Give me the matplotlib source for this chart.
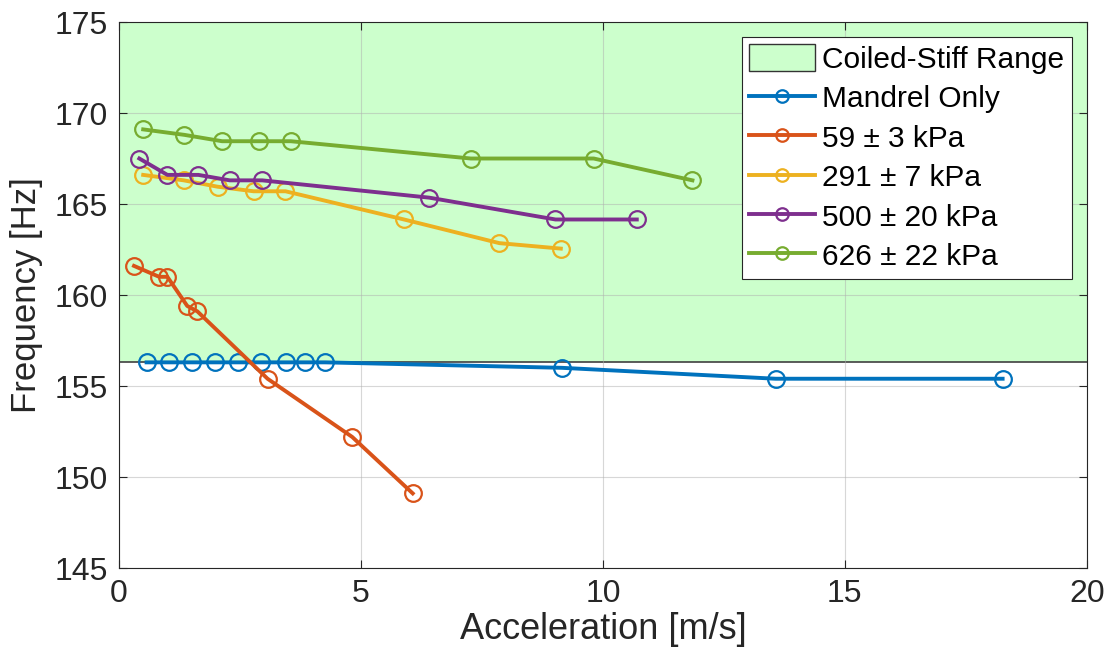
import matplotlib
matplotlib.use("Agg")
import matplotlib.pyplot as plt
from matplotlib.patches import Patch

plt.rcParams['font.family'] = ['Liberation Sans', 'DejaVu Sans']

range_low = 156.3
range_high = 175.0

mandrel_x = [0.57, 1.03, 1.50, 1.99, 2.46, 2.94, 3.46, 3.84, 4.26, 9.15, 13.57, 18.26]
mandrel_y = [156.3, 156.3, 156.3, 156.3, 156.3, 156.3, 156.3, 156.3, 156.3, 156.0, 155.4, 155.4]

k59_x = [0.31, 0.83, 1.00, 1.41, 1.62, 3.07, 4.82, 6.07]
k59_y = [161.6, 161.0, 161.0, 159.4, 159.1, 155.4, 152.2, 149.1]

k291_x = [0.50, 1.34, 2.04, 2.78, 3.44, 5.89, 7.86, 9.13]
k291_y = [166.6, 166.3, 165.95, 165.7, 165.7, 164.15, 162.85, 162.55]

k500_x = [0.42, 1.00, 1.64, 2.29, 2.96, 6.41, 9.02, 10.70]
k500_y = [167.5, 166.6, 166.6, 166.3, 166.3, 165.35, 164.15, 164.15]

k626_x = [0.50, 1.35, 2.13, 2.89, 3.55, 7.27, 9.81, 11.85]
k626_y = [169.1, 168.8, 168.45, 168.45, 168.45, 167.5, 167.5, 166.3]

labels = ['Mandrel Only', '59 ± 3 kPa', '291 ± 7 kPa', '500 ± 20 kPa', '626 ± 22 kPa']
colors = ['#0072BD', '#D95319', '#EDB120', '#7E2F8E', '#77AC30']
series = [(mandrel_x, mandrel_y), (k59_x, k59_y), (k291_x, k291_y),
          (k500_x, k500_y), (k626_x, k626_y)]

fig = plt.figure(figsize=(11.09, 6.67), dpi=100)
ax = fig.add_axes([0.1073, 0.1484, 0.8727, 0.8186])

ax.axhspan(range_low, range_high, facecolor='#CCFFCC', edgecolor='none', zorder=0)
ax.axhline(range_low, color='#404040', lw=1.2, zorder=1)
handles = [Patch(facecolor='#CCFFCC', edgecolor='#333333', label='Coiled-Stiff Range')]

for (x, y), lab, c in zip(series, labels, colors):
    h, = ax.plot(x, y, '-o', color=c, lw=2.8, markersize=12, markerfacecolor='none',
                 markeredgewidth=1.6, label=lab, zorder=3)
    handles.append(h)

ax.set_xlim(0, 20)
ax.set_ylim(145, 175)
ax.set_xticks([0, 5, 10, 15, 20])
ax.set_yticks([145, 150, 155, 160, 165, 170, 175])
ax.grid(True, color='#b0b0b0', alpha=0.5, lw=0.8, zorder=0.5)
ax.tick_params(direction='in', length=6, labelsize=23, colors='#262626',
               top=True, right=True, pad=8)
for s in ax.spines.values():
    s.set_color('#262626')
    s.set_linewidth(0.8)
ax.set_xlabel('Acceleration [m/s]', fontsize=26, color='#262626', labelpad=2)
ax.set_ylabel('Frequency [Hz]', fontsize=25, color='#262626', labelpad=8)

leg = ax.legend(handles=handles, loc='upper right', fontsize=21.5, frameon=True,
                fancybox=False, edgecolor='#262626', framealpha=1,
                handlelength=2.2, handleheight=1.0, borderaxespad=0.5,
                labelspacing=0.33, handletextpad=0.25, borderpad=0.25,
                markerscale=0.75)
leg.get_frame().set_linewidth(0.8)

fig.savefig('out.png', dpi=100)
